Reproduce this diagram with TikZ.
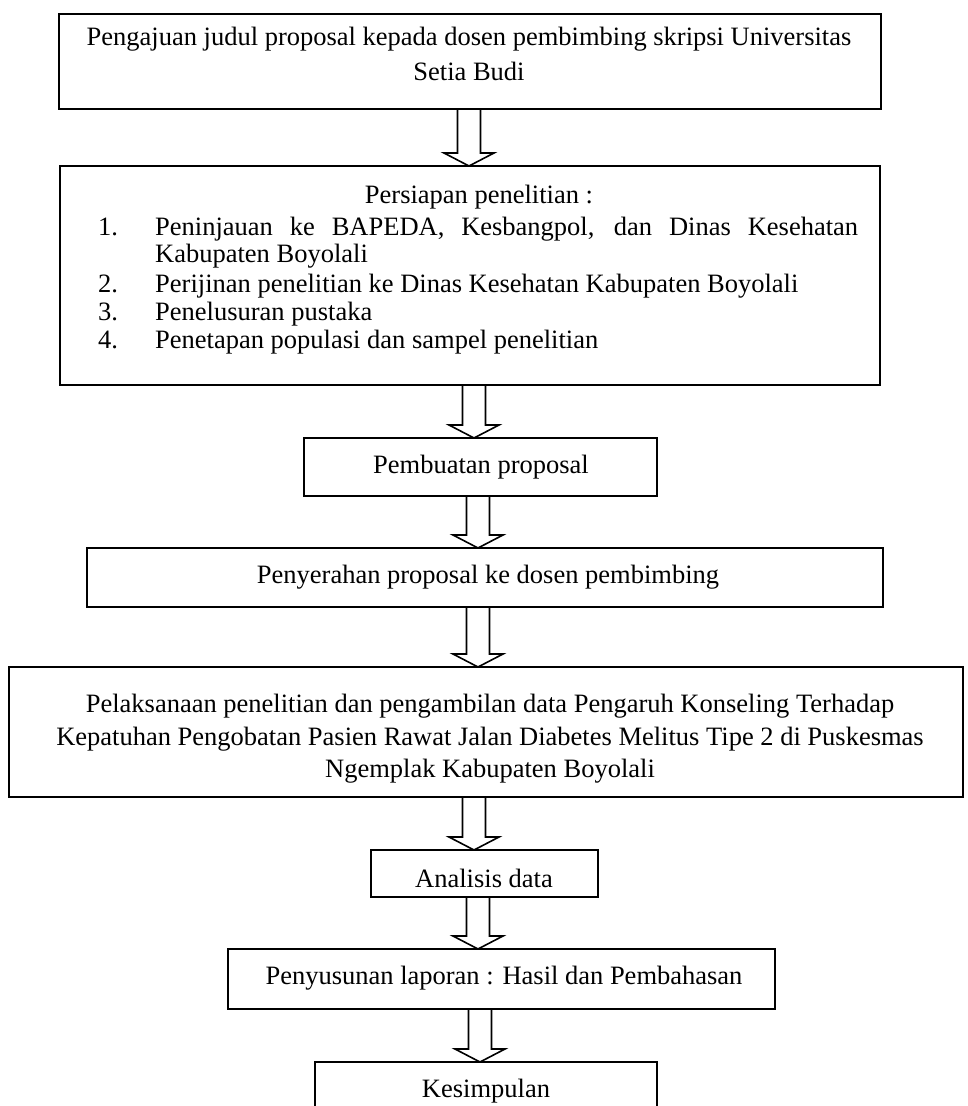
\documentclass[tikz,border=0pt]{standalone}
\usepackage{fontspec}
\setmainfont{Liberation Serif}
\usetikzlibrary{calc}
\tikzset{
  box/.style={draw, line width=2.2pt, fill=white, inner sep=0pt, outer sep=0pt, anchor=north west},
  txt/.style={inner sep=0pt, anchor=base, font=\fontsize{26.5}{30}\selectfont},
  txtl/.style={txt, anchor=base west},
  barrow/.style={draw, line width=1.6pt, fill=white, line join=miter},
}
\newcommand{\blockarrow}[3]{%
  \draw[barrow] let \p1=(#1.south), \p2=(#2.north) in
    ({#3pt-11.5pt},\y1) -- ({#3pt-11.5pt},\y2+13pt) -- ({#3pt-25pt},\y2+13pt)
    -- (#3pt,\y2) -- ({#3pt+25pt},\y2+13pt) -- ({#3pt+11.5pt},\y2+13pt)
    -- ({#3pt+11.5pt},\y1) -- cycle;}
\begin{document}
\begin{tikzpicture}
\useasboundingbox (0,0) rectangle (968pt,-1106pt);
\clip (0,0) rectangle (968pt,-1106pt);
\fill[white] (0,0) rectangle (968pt,-1106pt);

% boxes
\node[box, minimum width=822pt, minimum height=95pt] (b1) at (59pt,-14pt) {};
\node[box, minimum width=820pt, minimum height=219pt] (b2) at (60pt,-166pt) {};
\node[box, minimum width=353pt, minimum height=58pt] (b3) at (304pt,-438pt) {};
\node[box, minimum width=796pt, minimum height=59pt] (b4) at (87pt,-548pt) {};
\node[box, minimum width=954pt, minimum height=130pt] (b5) at (9pt,-667pt) {};
\node[box, minimum width=227pt, minimum height=47pt] (b6) at (371pt,-850pt) {};
\node[box, minimum width=547pt, minimum height=60pt] (b7) at (228pt,-949pt) {};
\node[box, minimum width=342pt, minimum height=70pt] (b8) at (315pt,-1062pt) {};

% texts
\node[txt] (t1a) at (469pt,-45pt) {Pengajuan judul proposal kepada dosen pembimbing skripsi Universitas};
\node[txt] (t1b) at (469pt,-80pt) {Setia Budi};

\node[txt] (t2h) at (479pt,-203pt) {Persiapan penelitian :};
\node[txtl] (n1) at (98pt,-235pt) {1.};
\node[txtl] (i1) at (155pt,-235pt) {\makebox[703pt][s]{Peninjauan ke BAPEDA, Kesbangpol, dan Dinas Kesehatan}};
\node[txtl] (i1b) at (155pt,-262pt) {Kabupaten Boyolali};
\node[txtl] (n2) at (98pt,-292pt) {2.};
\node[txtl] (i2) at (155pt,-292pt) {Perijinan penelitian ke Dinas Kesehatan Kabupaten Boyolali};
\node[txtl] (n3) at (98pt,-320pt) {3.};
\node[txtl] (i3) at (155pt,-320pt) {Penelusuran pustaka};
\node[txtl] (n4) at (98pt,-348pt) {4.};
\node[txtl] (i4) at (155pt,-348pt) {Penetapan populasi dan sampel penelitian};

\node[txt] (t3) at (481pt,-473pt) {Pembuatan proposal};
\node[txt] (t4) at (488pt,-583pt) {Penyerahan proposal ke dosen pembimbing};

\node[txt] (t5a) at (490pt,-712pt) {Pelaksanaan penelitian dan pengambilan data Pengaruh Konseling Terhadap};
\node[txt] (t5b) at (490pt,-745pt) {Kepatuhan Pengobatan Pasien Rawat Jalan Diabetes Melitus Tipe 2 di Puskesmas};
\node[txt] (t5c) at (490pt,-777pt) {Ngemplak Kabupaten Boyolali};

\node[txt] (t6) at (484pt,-887pt) {Analisis data};
\node[txt] (t7) at (504pt,-984pt) {Penyusunan laporan : Hasil dan Pembahasan};
\node[txt] (t8) at (486pt,-1097pt) {Kesimpulan};

% block arrows
\blockarrow{b1}{b2}{469}
\blockarrow{b2}{b3}{474}
\blockarrow{b3}{b4}{478}
\blockarrow{b4}{b5}{478}
\blockarrow{b5}{b6}{474}
\blockarrow{b6}{b7}{478}
\blockarrow{b7}{b8}{480}
\end{tikzpicture}
\end{document}
